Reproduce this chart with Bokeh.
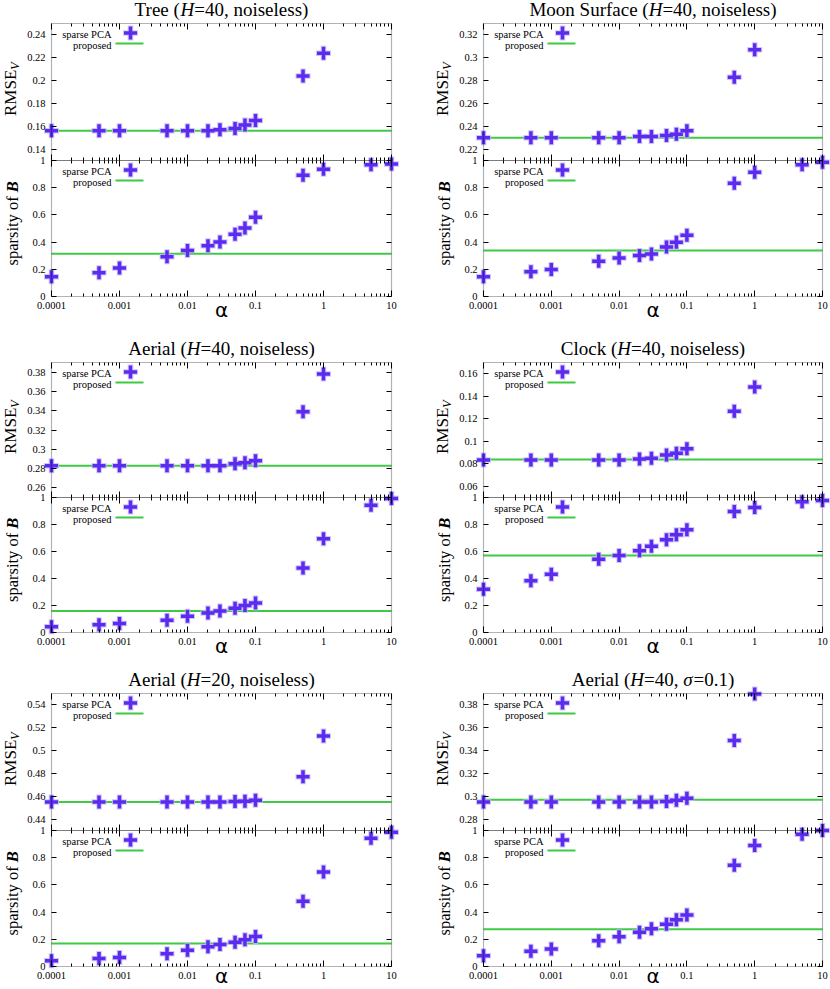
import math
from bokeh.plotting import figure
from bokeh.models import LogAxis, LinearAxis, FixedTicker, Label, Range1d, BoxAnnotation
from bokeh.layouts import column, row
from bokeh.embed import file_html
from bokeh.resources import INLINE

# ---------------- data ----------------
alpha = [0.0001, 0.0005, 0.001, 0.005, 0.01, 0.02, 0.03, 0.05, 0.07, 0.1, 0.5, 1, 5, 10]
alpha_rmse = [0.0001, 0.0005, 0.001, 0.005, 0.01, 0.02, 0.03, 0.05, 0.07, 0.1, 0.5, 1]

tree_rmse = [0.156, 0.156, 0.156, 0.156, 0.156, 0.156, 0.157, 0.158, 0.161, 0.165, 0.204, 0.224]
tree_rmse_proposed = 0.156
tree_sparsity = [0.145, 0.174, 0.209, 0.292, 0.339, 0.373, 0.400, 0.457, 0.504, 0.582, 0.892, 0.936, 0.968, 0.975]
tree_sparsity_proposed = 0.314

moon_rmse = [0.230, 0.230, 0.230, 0.230, 0.230, 0.231, 0.231, 0.232, 0.233, 0.236, 0.283, 0.307]
moon_rmse_proposed = 0.230
moon_sparsity = [0.145, 0.182, 0.199, 0.260, 0.283, 0.302, 0.312, 0.364, 0.398, 0.450, 0.833, 0.914, 0.968, 0.988]
moon_sparsity_proposed = 0.339

aerial_rmse = [0.283, 0.283, 0.283, 0.283, 0.283, 0.283, 0.283, 0.285, 0.286, 0.288, 0.339, 0.378]
aerial_rmse_proposed = 0.283
aerial_sparsity = [0.042, 0.057, 0.067, 0.091, 0.121, 0.145, 0.160, 0.180, 0.200, 0.219, 0.478, 0.695, 0.943, 0.993]
aerial_sparsity_proposed = 0.160

clock_rmse = [0.0834, 0.0834, 0.0834, 0.0834, 0.0834, 0.0843, 0.0849, 0.0878, 0.0893, 0.0934, 0.1266, 0.1482]
clock_rmse_proposed = 0.0837
clock_sparsity = [0.320, 0.384, 0.431, 0.542, 0.571, 0.606, 0.638, 0.687, 0.724, 0.761, 0.897, 0.926, 0.968, 0.978]
clock_sparsity_proposed = 0.571

aerial20_rmse = [0.455, 0.455, 0.455, 0.455, 0.455, 0.455, 0.455, 0.4554, 0.4557, 0.4566, 0.477, 0.5128]
aerial20_rmse_proposed = 0.455
aerial20_sparsity = [0.042, 0.059, 0.066, 0.093, 0.120, 0.145, 0.162, 0.179, 0.197, 0.221, 0.479, 0.695, 0.943, 0.988]
aerial20_sparsity_proposed = 0.170

noisy_rmse = [0.2949, 0.295, 0.295, 0.295, 0.295, 0.295, 0.295, 0.2955, 0.2964, 0.2982, 0.3488, 0.3895]
noisy_rmse_proposed = 0.297
noisy_sparsity = [0.079, 0.113, 0.128, 0.189, 0.219, 0.251, 0.278, 0.310, 0.344, 0.378, 0.744, 0.889, 0.973, 1.0]
noisy_sparsity_proposed = 0.273

# ticks / ranges
x_tick_values = [0.0001, 0.001, 0.01, 0.1, 1, 10]
x_tick_labels = ["0.0001", "0.001", "0.01", "0.1", "1", "10"]
x_minor_ticks = [m * 10.0 ** e for e in range(-4, 1) for m in range(2, 10)]

sparsity_range = [0, 1]
sparsity_ticks = [0, 0.2, 0.4, 0.6, 0.8, 1]
sparsity_tick_labels = ["0", "0.2", "0.4", "0.6", "0.8", "1"]

tree_rmse_range = [0.13, 0.25]
tree_rmse_ticks = [0.14, 0.16, 0.18, 0.2, 0.22, 0.24]
tree_rmse_tick_labels = ["0.14", "0.16", "0.18", "0.2", "0.22", "0.24"]
moon_rmse_range = [0.21, 0.33]
moon_rmse_ticks = [0.22, 0.24, 0.26, 0.28, 0.3, 0.32]
moon_rmse_tick_labels = ["0.22", "0.24", "0.26", "0.28", "0.3", "0.32"]
aerial_rmse_range = [0.25, 0.39]
aerial_rmse_ticks = [0.26, 0.28, 0.3, 0.32, 0.34, 0.36, 0.38]
aerial_rmse_tick_labels = ["0.26", "0.28", "0.3", "0.32", "0.34", "0.36", "0.38"]
clock_rmse_range = [0.05, 0.17]
clock_rmse_ticks = [0.06, 0.08, 0.1, 0.12, 0.14, 0.16]
clock_rmse_tick_labels = ["0.06", "0.08", "0.1", "0.12", "0.14", "0.16"]
aerial20_rmse_range = [0.43, 0.55]
aerial20_rmse_ticks = [0.44, 0.46, 0.48, 0.5, 0.52, 0.54]
aerial20_rmse_tick_labels = ["0.44", "0.46", "0.48", "0.5", "0.52", "0.54"]
noisy_rmse_range = [0.27, 0.39]
noisy_rmse_ticks = [0.28, 0.3, 0.32, 0.34, 0.36, 0.38]
noisy_rmse_tick_labels = ["0.28", "0.3", "0.32", "0.34", "0.36", "0.38"]

# titles: (text, font style) pieces
tree_title = [("Tree (", "normal"), ("H", "italic"), ("=40, noiseless)", "normal")]
moon_title = [("Moon Surface (", "normal"), ("H", "italic"), ("=40, noiseless)", "normal")]
aerial_title = [("Aerial (", "normal"), ("H", "italic"), ("=40, noiseless)", "normal")]
clock_title = [("Clock (", "normal"), ("H", "italic"), ("=40, noiseless)", "normal")]
aerial20_title = [("Aerial (", "normal"), ("H", "italic"), ("=20, noiseless)", "normal")]
noisy_title = [("Aerial (", "normal"), ("H", "italic"), ("=40, ", "normal"), ("σ", "italic"), ("=0.1)", "normal")]

legend_labels = ["sparse PCA", "proposed"]
rmse_label = [("RMSE", "normal"), ("V", "italic")]
sparsity_label = [("sparsity of ", "normal"), ("B", "bold italic")]
x_label = "α"

# ---------------- style / layout ----------------
PURPLE = "#5b2cf0"
HALO = "#c4b6f8"
GREEN = "#3fca45"
SERIF = "Liberation Serif"
MID = 0.34  # distance (in em) from baseline up to the middle anchor

XMIN, XMAX = 1e-4, 10
FIG_W = 415
COL_LEFT = [51, 68]
COL_FRAME = [340, 339]
# (figure height, top-plot top, boundary, bottom-plot bottom, alpha-label centre below frame)
ROWS = [(325, 23, 160, 296, 13.9), (332, 37, 172, 307, 13.9), (331, 36, 173, 309, 9.0)]

TW = {' ': 250, '(': 333, ')': 333, ',': 250, '.': 250, '=': 564,
      'A': 722, 'B': 667, 'C': 667, 'D': 722, 'E': 611, 'H': 722, 'M': 889, 'P': 556,
      'R': 667, 'S': 556, 'T': 611, 'V': 722,
      'a': 444, 'b': 500, 'c': 444, 'd': 500, 'e': 444, 'f': 333, 'g': 500, 'h': 500,
      'i': 278, 'k': 500, 'l': 278, 'm': 778, 'n': 500, 'o': 500, 'p': 500, 'r': 333,
      's': 389, 't': 278, 'u': 500, 'w': 722, 'y': 500}
TW_IT = {'H': 722, 'V': 611, 'σ': 540}
TW_BI = {'B': 667}


def text_w(s, size, style="normal"):
    tot = 0
    for ch in s:
        if style == "italic" and ch in TW_IT:
            w = TW_IT[ch]
        elif style == "bold italic" and ch in TW_BI:
            w = TW_BI[ch]
        elif ch.isdigit():
            w = 500
        else:
            w = TW.get(ch, 500)
        tot += w
    return tot * size / 1000.0


def style_axis(ax, show, major_len):
    ax.axis_line_color = None
    ax.major_tick_in = major_len
    ax.major_tick_out = 0
    ax.minor_tick_in = 3
    ax.minor_tick_out = 0
    ax.major_tick_line_color = "black"
    ax.minor_tick_line_color = "black"
    ax.major_label_text_font = SERIF
    ax.major_label_text_font_size = "10.5px"
    ax.major_label_text_color = "black" if show else None


def add_axes(p, rn, ylo, yhi, y_ticks, y_tick_labels, show_x):
    xt = FixedTicker(ticks=x_tick_values, minor_ticks=x_minor_ticks)
    yt = FixedTicker(ticks=y_ticks, minor_ticks=[])
    xb = LogAxis(ticker=xt, fixed_location=ylo, y_range_name=rn)
    xa = LogAxis(ticker=xt, fixed_location=yhi, y_range_name=rn)
    yl = LinearAxis(ticker=yt, fixed_location=XMIN, y_range_name=rn)
    yr = LinearAxis(ticker=yt, fixed_location=XMAX, y_range_name=rn)
    style_axis(xb, show_x, 6)
    style_axis(xa, False, 6)
    style_axis(yl, True, 5)
    style_axis(yr, False, 5)
    if show_x:
        xb.major_label_overrides = dict(zip(x_tick_values, x_tick_labels))
        xb.major_label_standoff = 5
    yl.major_label_overrides = dict(zip(y_ticks, y_tick_labels))
    yl.major_label_standoff = 6
    p.add_layout(xb, "below")
    p.add_layout(xa, "above")
    p.add_layout(yl, "left")
    p.add_layout(yr, "right")
    p.add_layout(BoxAnnotation(left=XMIN, right=XMAX, bottom=ylo, top=yhi, y_range_name=rn,
                               fill_color=None, fill_alpha=0, line_color="black", line_width=1.2))


def make_panel(col, r, title, rmse, rmse_prop, rmse_range, rmse_ticks, rmse_tick_labels,
               spars, spars_prop):
    fl, fw = COL_LEFT[col], COL_FRAME[col]
    W = FIG_W
    H, ft, fm, fb, a_off = ROWS[r]
    dec = 5.0 / fw
    x_start = XMIN * 10 ** (-fl * dec)
    x_end = XMIN * 10 ** ((W - fl) * dec)
    s0, s1 = sparsity_range
    s_pp = (s1 - s0) / (fb - fm)
    sy_start = s0 - (H - fb) * s_pp
    sy_end = s1 + fm * s_pp
    y0, y1 = rmse_range
    r_pp = (y1 - y0) / (fm - ft)
    ry_start = y0 - (H - fm) * r_pp
    ry_end = y1 + ft * r_pp

    p = figure(width=W, height=H, x_axis_type="log",
               x_range=Range1d(x_start, x_end), y_range=Range1d(sy_start, sy_end),
               x_axis_location=None, y_axis_location=None,
               toolbar_location=None, output_backend="svg",
               min_border_left=0, min_border_right=0, min_border_top=0, min_border_bottom=0)
    p.extra_y_ranges = {"rmse": Range1d(ry_start, ry_end)}
    p.title.visible = False
    p.grid.visible = False
    p.outline_line_color = None
    p.background_fill_color = "white"
    p.border_fill_color = "white"

    def px(xp, yp):
        return XMIN * 10 ** ((xp - fl) * dec), sy_end - yp * s_pp

    def label(xp, yp, text, size=10.5, style="normal", font=SERIF, align="left", angle=0.0):
        x, y = px(xp, yp)
        p.add_layout(Label(x=x, y=y, text=text, text_font=font, text_font_size="%gpx" % size,
                           text_font_style=style, text_align=align, text_baseline="middle",
                           angle=angle, text_color="black"))

    # axes and frames
    add_axes(p, "rmse", y0, y1, rmse_ticks, rmse_tick_labels, False)
    add_axes(p, "default", s0, s1, sparsity_ticks, sparsity_tick_labels, True)

    # proposed lines
    p.segment(x0=[XMIN], y0=[rmse_prop], x1=[XMAX], y1=[rmse_prop], y_range_name="rmse",
              line_color=GREEN, line_width=2)
    p.segment(x0=[XMIN], y0=[spars_prop], x1=[XMAX], y1=[spars_prop],
              line_color=GREEN, line_width=2)
    # sparse PCA points
    for xs, ys, rn in ((alpha_rmse, rmse, "rmse"), (alpha, spars, "default")):
        p.scatter(xs, ys, marker="cross", size=15, line_width=5.5, line_color=HALO,
                  line_alpha=0.8, y_range_name=rn)
        p.scatter(xs, ys, marker="cross", size=13, line_width=3.5, line_color=PURPLE,
                  y_range_name=rn)

    # legends (key in top-left of each sub-plot)
    for top in (ft, fm):
        label(fl + 60, top + 10.5, legend_labels[0], align="right")
        label(fl + 60, top + 21.5, legend_labels[1], align="right")
        mx, my = px(fl + 79, top + 9.5)
        p.scatter([mx], [my], marker="cross", size=15, line_width=5.5, line_color=HALO, line_alpha=0.8)
        p.scatter([mx], [my], marker="cross", size=13, line_width=3.5, line_color=PURPLE)
        lx0, ly = px(fl + 64, top + 20)
        lx1, _ = px(fl + 92, top + 20)
        p.segment(x0=[lx0], y0=[ly], x1=[lx1], y1=[ly], line_color=GREEN, line_width=2)

    # title (baseline 7.5px above the frame)
    tsize = 19
    total = sum(text_w(t, tsize, s) for t, s in title)
    pos = fl + fw / 2.0 - total / 2.0
    for t, s in title:
        label(pos, ft - 7.5 - MID * tsize, t, size=tsize, style=s)
        pos += text_w(t, tsize, s)

    # y labels (rotated; baseline is on the right side)
    ypos = (ft + fm) / 2.0 + 24
    for (t, s), size, sub in zip(rmse_label, [17, 12], [0, 3.5]):
        label(fl - 35.5 + sub - MID * size, ypos, t, size=size, style=s, angle=math.pi / 2)
        ypos -= text_w(t, size, s)
    ypos = (fm + fb) / 2.0 + 37
    for t, s in sparsity_label:
        label(fl - 33 - MID * 16.5, ypos, t, size=16.5, style=s, angle=math.pi / 2)
        ypos -= text_w(t, 16.5, s)

    # x label
    label(fl + fw / 2.0, fb + a_off, x_label, size=20, font="DejaVu Sans", align="center")
    return p


panels = [
    (0, 0, tree_title, tree_rmse, tree_rmse_proposed, tree_rmse_range, tree_rmse_ticks,
     tree_rmse_tick_labels, tree_sparsity, tree_sparsity_proposed),
    (1, 0, moon_title, moon_rmse, moon_rmse_proposed, moon_rmse_range, moon_rmse_ticks,
     moon_rmse_tick_labels, moon_sparsity, moon_sparsity_proposed),
    (0, 1, aerial_title, aerial_rmse, aerial_rmse_proposed, aerial_rmse_range, aerial_rmse_ticks,
     aerial_rmse_tick_labels, aerial_sparsity, aerial_sparsity_proposed),
    (1, 1, clock_title, clock_rmse, clock_rmse_proposed, clock_rmse_range, clock_rmse_ticks,
     clock_rmse_tick_labels, clock_sparsity, clock_sparsity_proposed),
    (0, 2, aerial20_title, aerial20_rmse, aerial20_rmse_proposed, aerial20_rmse_range,
     aerial20_rmse_ticks, aerial20_rmse_tick_labels, aerial20_sparsity, aerial20_sparsity_proposed),
    (1, 2, noisy_title, noisy_rmse, noisy_rmse_proposed, noisy_rmse_range, noisy_rmse_ticks,
     noisy_rmse_tick_labels, noisy_sparsity, noisy_sparsity_proposed),
]

figs = [make_panel(*pnl) for pnl in panels]
layout = column(row(figs[0], figs[1]), row(figs[2], figs[3]), row(figs[4], figs[5]))

with open("out.html", "w") as f:
    f.write(file_html(layout, INLINE))
